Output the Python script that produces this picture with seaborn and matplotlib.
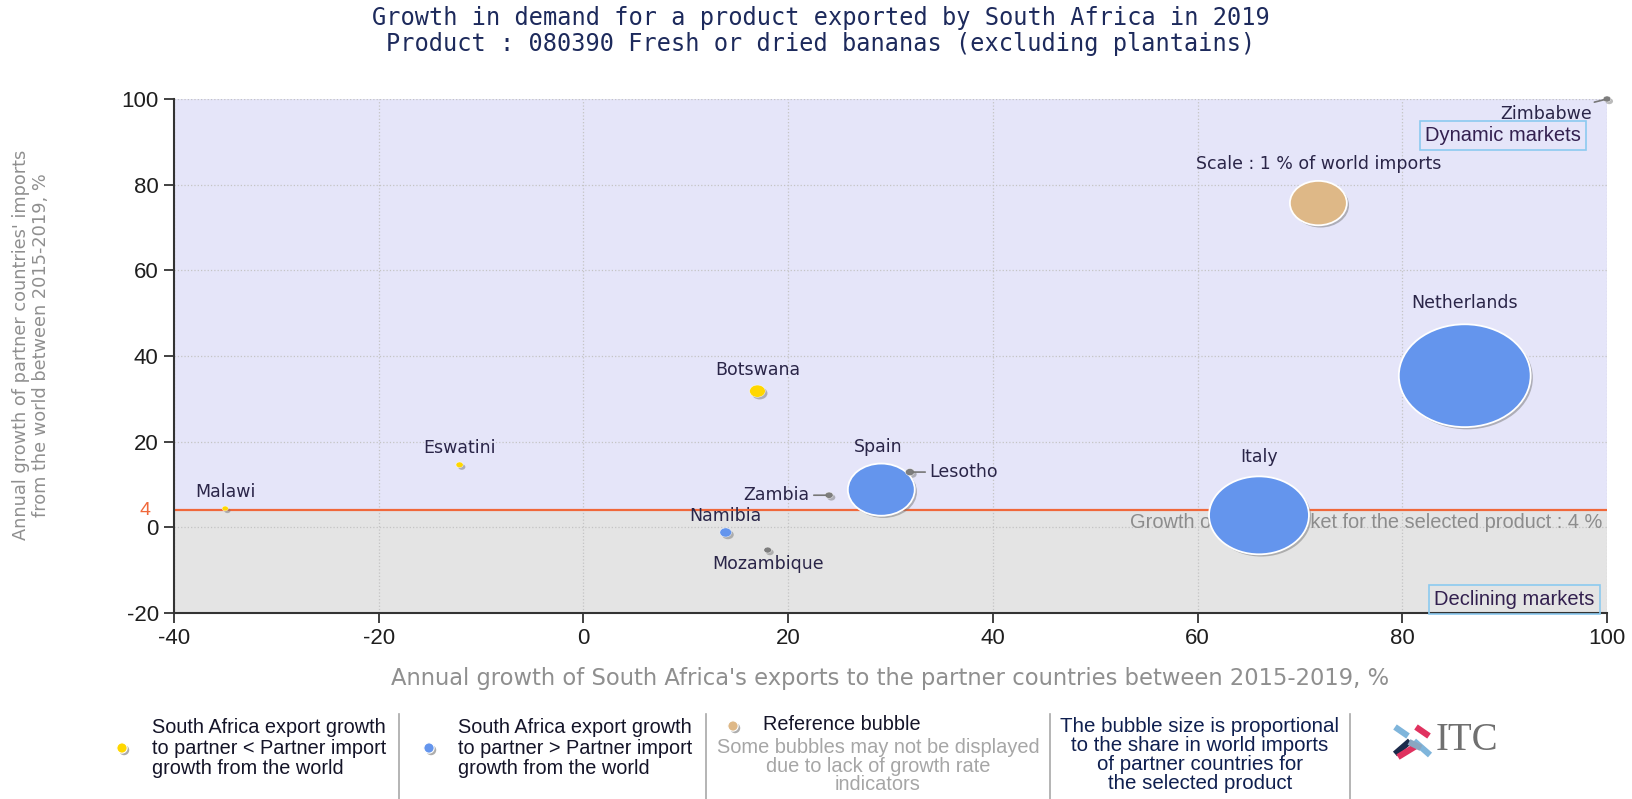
import numpy as np
import pandas as pd
import matplotlib
matplotlib.use("Agg")
import matplotlib.pyplot as plt
import matplotlib.patheffects as pe
from matplotlib.path import Path
import seaborn as sns

plt.rcParams["axes.unicode_minus"] = False

# =======================================
# Data
# =======================================
COUNTRIES = ["Netherlands", "Italy", "Spain", "Botswana", "Namibia", "Eswatini",
             "Malawi", "Zambia", "Lesotho", "Mozambique", "Zimbabwe"]
EXPORT_GROWTH = [86.1, 66.0, 29.1, 17.0, 13.9, -12.1, -35.0, 24.0, 31.9, 18.0, 100.0]
IMPORT_GROWTH = [35.4, 2.8, 8.8, 31.8, -1.2, 14.6, 4.4, 7.5, 12.9, -5.3, 100.0]
WORLD_SHARE = [5.36, 3.08, 1.38, 0.075, 0.042, 0.016, 0.012, 0.02, 0.025, 0.018, 0.018]
GROUP = ["above", "above", "above", "below", "above", "below",
         "below", "none", "none", "none", "none"]

REF_X, REF_Y, REF_SHARE = 71.8, 75.7, 1.0
WORLD_GROWTH = 4

X_TICKS = [-40, -20, 0, 20, 40, 60, 80, 100]
Y_TICKS = [-20, 0, 20, 40, 60, 80, 100]

PALETTE = {"below": "#FFD700", "above": "#6495ED", "reference": "#DEB887", "none": "#7d7d7d"}

# label offsets in points (dx, dy, ha)
LABEL_POS = {
    "Netherlands": (0, 52, "center"), "Italy": (0, 42, "center"), "Spain": (-2, 31, "center"),
    "Botswana": (0, 15, "center"), "Namibia": (0, 12, "center"), "Eswatini": (0, 12, "center"),
    "Malawi": (0, 12, "center"), "Zambia": (-14, 0, "right"), "Lesotho": (14, 0, "left"),
    "Mozambique": (0, -10, "center"), "Zimbabwe": (-11, -11, "right"),
}
LEADER = {"Zambia", "Lesotho", "Zimbabwe"}

TITLE = ("Growth in demand for a product exported by South Africa in 2019\n"
         "Product : 080390 Fresh or dried bananas (excluding plantains)")
XLABEL = "Annual growth of South Africa's exports to the partner countries between 2015-2019, %"
YLABEL = "Annual growth of partner countries' imports\nfrom the world between 2015-2019, %"

df = pd.DataFrame({
    "country": COUNTRIES + ["Reference"],
    "x": EXPORT_GROWTH + [REF_X],
    "y": IMPORT_GROWTH + [REF_Y],
    "share": WORLD_SHARE + [REF_SHARE],
    "group": GROUP + ["reference"],
})

# =======================================
# Figure
# =======================================
W, H = 1633, 799
fig = plt.figure(figsize=(W / 100, H / 100), dpi=100)

# overlay in pixel coordinates for legend strip / logo
lax = fig.add_axes([0, 0, 1, 1], zorder=0)
lax.set_xlim(0, W)
lax.set_ylim(H, 0)
lax.axis("off")

ax = fig.add_axes([174 / W, 1 - 613 / H, (1607 - 174) / W, (613 - 99) / H], zorder=1)

ax.set_xlim(-40, 100)
ax.set_ylim(-20, 100)
ax.axhspan(-20, WORLD_GROWTH, color="#e4e4e4", zorder=0)
ax.axhspan(WORLD_GROWTH, 100, color="#e5e5f9", zorder=0)
ax.set_facecolor("white")
ax.grid(True, linestyle=":", color="#c4c4c4", linewidth=0.9, zorder=0.5)
ax.set_axisbelow(True)
ax.axhline(WORLD_GROWTH, color="#f0683a", linewidth=1.6, zorder=1)

ax.set_xticks(X_TICKS)
ax.set_yticks(Y_TICKS)
for lab in ax.get_xticklabels() + ax.get_yticklabels():
    lab.set_fontfamily("Liberation Sans")
    lab.set_fontsize(16)
    lab.set_color("#1e1e1e")
ax.tick_params(axis="both", length=7, width=1.3, color="#333333", pad=4)
for side in ["top", "right"]:
    ax.spines[side].set_visible(False)
for side in ["left", "bottom"]:
    ax.spines[side].set_color("#333333")
    ax.spines[side].set_linewidth(1.5)

# elliptic bubble marker (chart is stretched horizontally)
circ = Path.unit_circle()
ellipse = Path(circ.vertices * np.array([1.0, 0.78]), circ.codes)

sns.scatterplot(
    data=df, x="x", y="y", hue="group", size="share",
    palette=PALETTE, sizes=(0, 1681 * 6), size_norm=(0, 6),
    marker=ellipse, edgecolor="white", linewidth=1.3,
    legend=False, ax=ax, zorder=3,
)
bubbles = ax.collections[-1]
bubbles.set_clip_on(False)
bubbles.set_linewidths(np.where(df["share"] > 0.5, 1.3, 0.3))
bubbles.set_path_effects([
    pe.SimplePatchShadow(offset=(1.6, -1.6), shadow_rgbFace="#777777", alpha=0.5),
    pe.Normal(),
])
ax.set_xlabel("")
ax.set_ylabel("")

# country labels
for _, row in df.iterrows():
    name = row["country"]
    if name == "Reference":
        continue
    dx, dy, ha = LABEL_POS[name]
    arrow = dict(arrowstyle="-", color="#777777", lw=1.2, shrinkA=1, shrinkB=2) if name in LEADER else None
    ax.annotate(name, xy=(row["x"], row["y"]), xytext=(dx, dy), textcoords="offset points",
                ha=ha, va="center", fontsize=12.5, color="#2a2548", zorder=4,
                arrowprops=arrow, annotation_clip=False)

ax.annotate("Scale : 1 % of world imports", xy=(REF_X, REF_Y), xytext=(0, 28),
            textcoords="offset points", ha="center", va="center",
            fontsize=12.5, color="#2a2548", zorder=4)

# world growth line annotations
ax.annotate(str(WORLD_GROWTH), xy=(0, WORLD_GROWTH), xycoords=("axes fraction", "data"),
            xytext=(-17, 0), textcoords="offset points", ha="right", va="center",
            fontsize=14, color="#f0683a", fontfamily="Liberation Sans", annotation_clip=False)
ax.annotate("Growth of world market for the selected product : 4 %", xy=(100, WORLD_GROWTH),
            xytext=(-3, -9), textcoords="offset points", ha="right", va="center",
            fontsize=14.4, color="#8c8c8c", fontfamily="Liberation Sans", zorder=2)

box = dict(boxstyle="square,pad=0.25", facecolor="none", edgecolor="#8ccaf0", linewidth=1.2)
ax.annotate("Dynamic markets", xy=(1, 1), xycoords="axes fraction", xytext=(-19, -26),
            textcoords="offset points", ha="right", va="center", fontsize=14.5,
            fontfamily="Liberation Sans", color="#33204f", bbox=box, zorder=4)
ax.annotate("Declining markets", xy=(1, 0), xycoords="axes fraction", xytext=(-9, 10),
            textcoords="offset points", ha="right", va="center", fontsize=14.5,
            fontfamily="Liberation Sans", color="#33204f", bbox=box, zorder=4)

# titles and axis labels
fig.text(821 / W, 1 - 31 / H, TITLE, ha="center", va="center", fontsize=17,
         fontfamily="DejaVu Sans Mono", color="#1d2a5c", linespacing=1.15)
fig.text(890 / W, 1 - 678 / H, XLABEL, ha="center", va="center", fontsize=16.3,
         color="#8f8f8f")
fig.text(31 / W, 1 - 345 / H, YLABEL, ha="center", va="center", rotation=90,
         fontsize=12.8, color="#8f8f8f", multialignment="center", linespacing=1.15)

# =======================================
# Bottom legend strip
# =======================================
for xs in [399, 706, 1050, 1350]:
    lax.plot([xs, xs], [714, 799], color="#a8a8a8", lw=1.2)

leg_dots = lax.scatter([122, 429, 733], [748, 748, 726], s=55,
                       c=[PALETTE["below"], PALETTE["above"], PALETTE["reference"]],
                       edgecolors="white", linewidths=0.8)
leg_dots.set_path_effects([
    pe.SimplePatchShadow(offset=(1.5, -1.5), shadow_rgbFace="#777777", alpha=0.6), pe.Normal()])

leg_font = dict(fontfamily="Liberation Sans", fontsize=14.3, linespacing=1.11)
lax.text(152, 748, "South Africa export growth\nto partner < Partner import\ngrowth from the world",
         ha="left", va="center", color="#141428", **leg_font)
lax.text(458, 748, "South Africa export growth\nto partner > Partner import\ngrowth from the world",
         ha="left", va="center", color="#141428", **leg_font)
lax.text(763, 725, "Reference bubble", ha="left", va="center", color="#141428",
         fontfamily="Liberation Sans", fontsize=14.3)
lax.text(878, 766, "Some bubbles may not be displayed\ndue to lack of growth rate\nindicators",
         ha="center", va="center", color="#a6a6a6", fontfamily="Liberation Sans",
         fontsize=14.4, linespacing=0.95)
lax.text(1200, 755, "The bubble size is proportional\nto the share in world imports\n"
         "of partner countries for\nthe selected product",
         ha="center", va="center", color="#0f1f4f", fontfamily="Liberation Sans",
         fontsize=14.8, linespacing=1.0)

# ITC logo
logo = [((1395, 727), (1408, 736), "#7fb5db"), ((1416, 727), (1429, 736), "#e0325f"),
        ((1395, 754), (1410, 741), "#1b2a4a"), ((1398, 757), (1416, 746), "#e0325f"),
        ((1414, 741), (1430, 755), "#7fb5db"), ((1409, 742), (1421, 748), "#8aa6c0")]
for (x0, y0), (x1, y1), col in logo:
    lax.plot([x0, x1], [y0, y1], color=col, lw=4.5, solid_capstyle="butt")
lax.text(1436, 741, "ITC", ha="left", va="center", fontsize=28,
         fontfamily="Liberation Serif", color="#707070")

fig.savefig("out.png", dpi=100)
